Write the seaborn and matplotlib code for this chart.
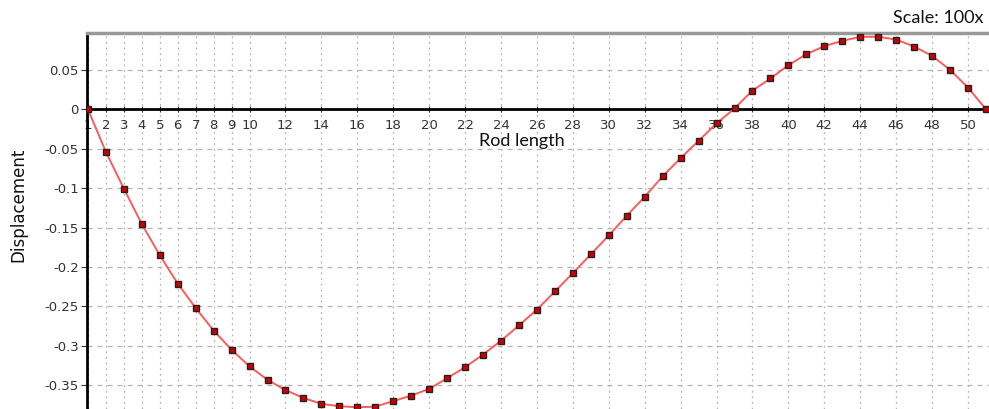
import matplotlib
matplotlib.use("Agg")
import matplotlib.pyplot as plt
import matplotlib.ticker as mticker
import pandas as pd
import seaborn as sns

sns.set_theme(style="white")
plt.rcParams["font.family"] = ["DejaVu Sans"]
plt.rcParams["axes.unicode_minus"] = False

# rod position (1..51) and displacement
rod_pos = list(range(1, 52))
displacement = [
    0.0, -0.054, -0.1006, -0.1455, -0.185, -0.221, -0.252, -0.2805, -0.305, -0.326,
    -0.343, -0.356, -0.366, -0.3735, -0.3765, -0.3778, -0.377, -0.370, -0.363, -0.3545,
    -0.341, -0.327, -0.311, -0.2935, -0.274, -0.254, -0.231, -0.2077, -0.184, -0.160,
    -0.135, -0.111, -0.085, -0.062, -0.040, -0.018, 0.001, 0.0237, 0.039, 0.0558,
    0.0698, 0.080, 0.0867, 0.0918, 0.0918, 0.0884, 0.0795, 0.0677, 0.050, 0.0275, 0.0,
]
x_ticks = list(range(1, 11)) + list(range(12, 51, 2))
y_ticks = [0.05, 0, -0.05, -0.1, -0.15, -0.2, -0.25, -0.3, -0.35]

df = pd.DataFrame({"pos": rod_pos, "disp": displacement})

fig = plt.figure(figsize=(9.89, 4.09), dpi=100)
ax = fig.add_axes([0.088, 0.0, 0.912, 0.919])

sns.lineplot(data=df, x="pos", y="disp", ax=ax, color="#ff5a5a", lw=1.4,
             marker="s", markersize=5, markerfacecolor="#d10000",
             markeredgecolor="#222222", markeredgewidth=1.0, zorder=4)

ax.set_xlim(0.95, 51.17)
ax.set_ylim(-0.38, 0.0965)
ax.set_xticks(x_ticks)
ax.set_yticks(y_ticks)
ax.yaxis.set_major_formatter(mticker.FuncFormatter(lambda v, p: f"{v:g}"))

# grid: dashed horizontal, dotted vertical
ax.grid(axis="y", linestyle=(0, (4, 4)), color="#b5b5b5", lw=0.9)
ax.grid(axis="x", linestyle=(0, (1.5, 3)), color="#b5b5b5", lw=0.9)

# x axis crosses at zero
ax.spines["bottom"].set_position(("data", 0))
ax.spines["bottom"].set_color("black")
ax.spines["bottom"].set_linewidth(2)
ax.spines["left"].set_color("black")
ax.spines["left"].set_linewidth(2)
ax.spines["top"].set_color("#999999")
ax.spines["top"].set_linewidth(2.5)
ax.spines["right"].set_visible(False)

ax.tick_params(axis="x", bottom=True, direction="inout", length=4, width=0.8,
               colors="#333333", labelsize=9.5, pad=5)
ax.tick_params(axis="y", left=True, direction="out", length=4, width=0.8,
               colors="#333333", labelsize=9.5, pad=2)

ax.set_xlabel("Rod length", fontsize=13, family=["Lato", "DejaVu Sans"], color="#111111")
ax.xaxis.set_label_coords(0.482, 0.735)
ax.set_ylabel("Displacement", fontsize=12, color="#111111")
ax.yaxis.set_label_coords(-0.066, 0.543)

fig.text(0.994, 0.956, "Scale: 100x", ha="right", va="center", fontsize=13,
         family=["Lato", "DejaVu Sans"], color="#111111")

plt.savefig("out.png", dpi=100)
